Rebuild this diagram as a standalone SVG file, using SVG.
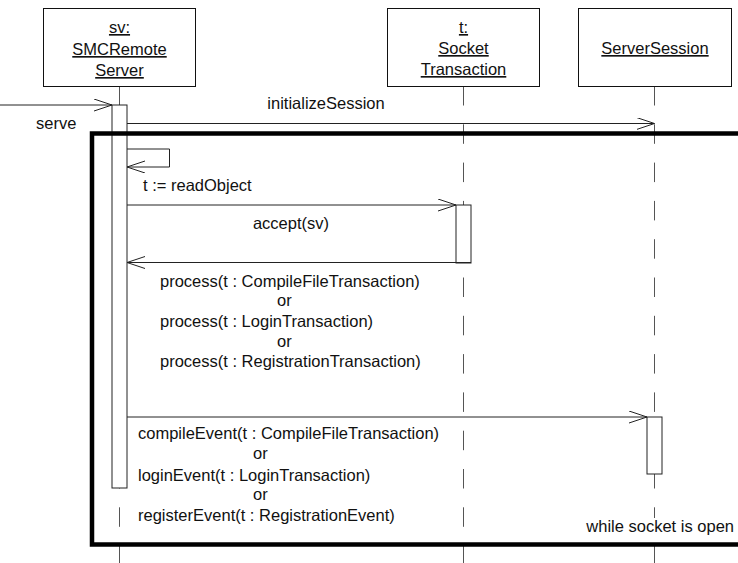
<svg xmlns="http://www.w3.org/2000/svg" width="738" height="563" viewBox="0 0 738 563">
<style>
  text { font-family: "Liberation Sans", Arial, sans-serif; font-size: 16.5px; fill: #111; }
  .u { text-decoration: underline; }
  .obj { fill: #fff; stroke: #111; stroke-width: 1; }
  .life { stroke: #555; stroke-width: 1; stroke-dasharray: 19.5 18.8; fill: none; }
  .bar { fill: #fff; stroke: #222; stroke-width: 1; }
  .msg { stroke: #222; stroke-width: 1; fill: none; marker-end: url(#open); }
  .frame { fill: none; stroke: #000; stroke-width: 4.5; }
</style>
<defs>
  <marker id="open" markerUnits="userSpaceOnUse" markerWidth="20" markerHeight="14" refX="18" refY="6" orient="auto">
    <path d="M0,0 L18,6 L0,12" fill="none" stroke="#222" stroke-width="1"/>
  </marker>
</defs>
<rect width="738" height="563" fill="#fff"/>

<g id="lifelines">
  <line class="life" x1="119.5" y1="86" x2="119.5" y2="563"/>
  <line class="life" x1="463.5" y1="86" x2="463.5" y2="563"/>
  <line class="life" x1="654.5" y1="86" x2="654.5" y2="563"/>
</g>

<g id="node-sv">
  <rect class="obj" x="43.5" y="8.5" width="152" height="78"/>
  <text class="u" x="119.5" y="33" text-anchor="middle">sv:</text>
  <text class="u" x="119.5" y="55" text-anchor="middle">SMCRemote</text>
  <text class="u" x="119.5" y="76" text-anchor="middle">Server</text>
</g>
<g id="node-t">
  <rect class="obj" x="387.5" y="8.5" width="152" height="78"/>
  <text class="u" x="463.5" y="33" text-anchor="middle">t:</text>
  <text class="u" x="463.5" y="54" text-anchor="middle">Socket</text>
  <text class="u" x="463.5" y="75" text-anchor="middle">Transaction</text>
</g>
<g id="node-session">
  <rect class="obj" x="578.5" y="8.5" width="153" height="78"/>
  <text class="u" x="655" y="54" text-anchor="middle">ServerSession</text>
</g>

<g id="activations">
  <rect class="bar" x="112" y="105" width="15" height="383"/>
  <rect class="bar" x="456" y="205" width="15" height="58"/>
  <rect class="bar" x="647" y="417" width="15" height="57"/>
</g>

<g id="loop-frame">
  <rect class="frame" x="92" y="133.5" width="680" height="411"/>
  <rect x="586" y="518" width="150" height="20" fill="#fff"/>
  <text x="734" y="532" text-anchor="end">while socket is open</text>
</g>

<g id="connectors">
  <line class="msg" x1="0" y1="105" x2="112" y2="105"/>
  <line class="msg" x1="127" y1="123.5" x2="654.5" y2="123.5"/>
  <polyline class="msg" points="127,149 169.5,149 169.5,167 127,167"/>
  <line class="msg" x1="127" y1="205" x2="456" y2="205"/>
  <line class="msg" x1="471" y1="262.5" x2="127" y2="262.5"/>
  <line class="msg" x1="127" y1="417" x2="647" y2="417"/>
</g>

<g id="labels">
  <text x="36" y="129">serve</text>
  <text x="326" y="109" text-anchor="middle">initializeSession</text>
  <text x="143" y="191">t := readObject</text>
  <text x="291" y="229" text-anchor="middle">accept(sv)</text>
  <text x="160" y="287">process(t : CompileFileTransaction)</text>
  <text x="277" y="306">or</text>
  <text x="160" y="327">process(t : LoginTransaction)</text>
  <text x="277" y="347">or</text>
  <text x="160" y="367">process(t : RegistrationTransaction)</text>
  <text x="138" y="439">compileEvent(t : CompileFileTransaction)</text>
  <text x="253" y="459">or</text>
  <text x="138" y="481">loginEvent(t : LoginTransaction)</text>
  <text x="253" y="500">or</text>
  <text x="138" y="521">registerEvent(t : RegistrationEvent)</text>
</g>
</svg>
